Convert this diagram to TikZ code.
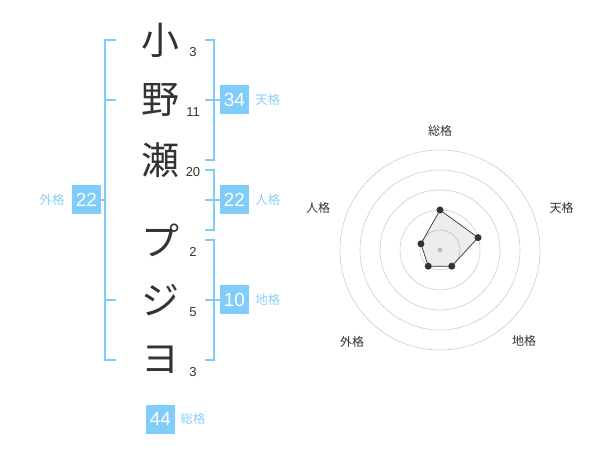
\documentclass[tikz,border=0pt]{standalone}
\usepackage{fontspec}
\setmainfont{Liberation Sans}
\newfontfamily\jp{Noto Sans CJK JP}
\usetikzlibrary{positioning}
\definecolor{cbrace}{HTML}{80CCF8}
\definecolor{cbox}{HTML}{80CCFA}
\definecolor{clabel}{HTML}{8AD0F8}
\definecolor{cink}{HTML}{333333}
\definecolor{cring}{HTML}{CCCCCC}
\tikzset{
  every picture/.style={x=1pt, y=-1pt},
  glyph/.style={font=\jp\fontsize{38}{38}\selectfont, text=cink, inner sep=0pt},
  strokes/.style={font=\fontsize{13}{13}\selectfont, text=cink, inner sep=0pt},
  score/.style={fill=cbox, text=white, font=\fontsize{19}{19}\selectfont, minimum size=29pt, inner sep=0pt},
  kaku/.style={font=\jp\fontsize{12.5}{12.5}\selectfont, text=clabel, inner sep=0pt},
  brace/.style={draw=cbrace, line width=2pt},
  ring/.style={draw=cring, line width=0.6pt},
  axis/.style={font=\jp\fontsize{12}{12}\selectfont, text=cink, inner sep=0pt},
  dot/.style={circle, fill=cink, inner sep=0pt, minimum size=7pt},
}

\begin{document}
\begin{tikzpicture}
  \useasboundingbox (0,0) rectangle (600,470);
  % name characters and their stroke counts
  \foreach \i/\ch/\y/\n in {1/小/40/3, 2/野/100/11, 3/瀬/160/20, 4/プ/240/2, 5/ジ/300/5, 6/ヨ/360/3} {
    \node[glyph] (c\i) at (160,\y) {\ch};
    \node[strokes] (n\i) at (193,\y+12) {\n};
  }
  % score boxes
  \node[score] (ten) at (234.5,100) {34};
  \node[score] (jin) at (234.5,200) {22};
  \node[score] (chi) at (234.5,300) {10};
  \node[score] (gai) at (86.5,200) {22};
  \node[score] (sou) at (160.5,419) {44};
  \node[kaku, right=6pt of ten] (tenL) {天格};
  \node[kaku, right=6pt of jin] (jinL) {人格};
  \node[kaku, right=6pt of chi] (chiL) {地格};
  \node[kaku, left=7pt of gai] (gaiL) {外格};
  \node[kaku, right=5pt of sou] (souL) {総格};
  % brackets
  \draw[brace] (116,40) -| (105,360) -- (116,360);
  \draw[brace] (105,100) -- (116,100) (105,300) -- (116,300);
  \draw[brace] (gai.east) -- (105,200);
  \draw[brace] (205,40) -| (214,160) -- (205,160);
  \draw[brace] (205,170) -| (214,230) -- (205,230);
  \draw[brace] (205,240) -| (214,360) -- (205,360);
  \draw[brace] (205,100) -- (ten.west) (205,200) -- (jin.west) (205,300) -- (chi.west);
  % radar chart
  \begin{scope}[shift={(440,250)}]
    \foreach \r in {20,40,...,100} \draw[ring] (0,0) circle (\r pt);
    \fill[cring] (0,0) circle (2.5pt);
    \foreach \i/\a/\r in {1/-90/40, 2/-18/40, 3/54/20, 4/126/20, 5/198/20}
      \coordinate (q\i) at (\a:\r);
    \draw[cink, line width=0.7pt, fill=black, fill opacity=0.07] (q1) -- (q2) -- (q3) -- (q4) -- (q5) -- cycle;
    \foreach \i in {1,...,5} \node[dot] (p\i) at (q\i) {};
    \node[axis] (aSou) at (0,-119.5) {総格};
    \node[axis] (aTen) at (121.7,-41.7) {天格};
    \node[axis] (aChi) at (84,90.7) {地格};
    \node[axis] (aGai) at (-88,91.7) {外格};
    \node[axis] (aJin) at (-122,-42) {人格};
  \end{scope}
\end{tikzpicture}
\end{document}
